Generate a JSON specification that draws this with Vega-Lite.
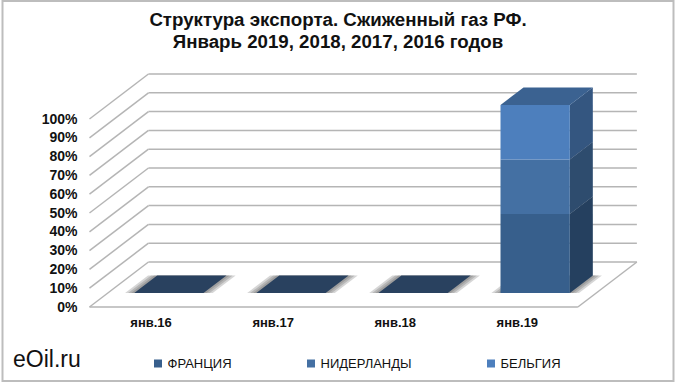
{"$schema":"https://vega.github.io/schema/vega-lite/v6.json","width":671,"height":380,"autosize":{"type":"none"},"padding":{"left":2.5,"top":1,"right":6.5,"bottom":4},"background":"white","title":{"text":["Структура экспорта. Сжиженный газ РФ.","Январь 2019, 2018, 2017, 2016 годов"],"frame":"group","anchor":"middle","offset":-51,"font":"Liberation Sans","fontSize":18.7,"fontWeight":"bold","color":"#111111","lineHeight":22},"config":{"view":{"stroke":"#bdbdbd","strokeWidth":2},"axis":{"domain":false,"ticks":false,"grid":false,"title":null,"labelFont":"Liberation Sans","labelFontWeight":"bold","labelColor":"#111111"}},"datasets":{"levels":[{"level":0},{"level":0.1},{"level":0.2},{"level":0.3},{"level":0.4},{"level":0.5},{"level":0.6},{"level":0.7},{"level":0.8},{"level":0.9},{"level":1}],"shares":[{"month":"янв.16","country":"ФРАНЦИЯ","share":0},{"month":"янв.16","country":"НИДЕРЛАНДЫ","share":0},{"month":"янв.16","country":"БЕЛЬГИЯ","share":0},{"month":"янв.17","country":"ФРАНЦИЯ","share":0},{"month":"янв.17","country":"НИДЕРЛАНДЫ","share":0},{"month":"янв.17","country":"БЕЛЬГИЯ","share":0},{"month":"янв.18","country":"ФРАНЦИЯ","share":0},{"month":"янв.18","country":"НИДЕРЛАНДЫ","share":0},{"month":"янв.18","country":"БЕЛЬГИЯ","share":0},{"month":"янв.19","country":"ФРАНЦИЯ","share":0.42},{"month":"янв.19","country":"НИДЕРЛАНДЫ","share":0.29},{"month":"янв.19","country":"БЕЛЬГИЯ","share":0.29}]},"data":{"name":"shares"},"transform":[{"calculate":"indexof(['янв.16','янв.17','янв.18','янв.19'],datum.month)+0.5","as":"c"},{"calculate":"indexof(['ФРАНЦИЯ','НИДЕРЛАНДЫ','БЕЛЬГИЯ'],datum.country)","as":"k"},{"stack":"share","groupby":["month"],"sort":[{"field":"k","order":"ascending"}],"as":["y0","y1"]}],"layer":[{"data":{"name":"levels"},"mark":{"type":"rule","color":"#b5b5b5","strokeWidth":1.5},"transform":[{"calculate":"datum.level+0.2394","as":"back"}],"encoding":{"x":{"datum":0,"type":"quantitative","scale":{"domain":[-0.7125,4.783]},"axis":{"values":[0.5,1.5,2.5,3.5],"offset":-74,"labelExpr":"['янв.16','янв.17','янв.18','янв.19'][floor(datum.value)]","labelFontSize":13,"labelPadding":9,"labelOverlap":false}},"x2":{"datum":0.483},"y":{"field":"level","type":"quantitative","scale":{"domain":[-0.3936,1.6277]},"axis":{"values":[0,0.1,0.2,0.3,0.4,0.5,0.6,0.7,0.8,0.9,1],"tickCount":12,"format":".0%","offset":-87,"labelFontSize":14,"labelPadding":12.5,"labelOverlap":false}},"y2":{"field":"back"}}},{"data":{"name":"levels"},"mark":{"type":"rule","color":"#b5b5b5","strokeWidth":1.5},"transform":[{"calculate":"datum.level+0.2394","as":"back"}],"encoding":{"x":{"datum":0.483,"type":"quantitative","scale":{"domain":[-0.7125,4.783]}},"x2":{"datum":4.483},"y":{"field":"back","type":"quantitative","scale":{"domain":[-0.3936,1.6277]}}}},{"data":{"name":"levels"},"mark":{"type":"rule","color":"#b5b5b5","strokeWidth":1.5},"transform":[{"filter":"datum.level==0"}],"encoding":{"x":{"datum":0,"type":"quantitative","scale":{"domain":[-0.7125,4.783]}},"x2":{"datum":4},"y":{"field":"level","type":"quantitative","scale":{"domain":[-0.3936,1.6277]}}}},{"data":{"name":"levels"},"mark":{"type":"rule","color":"#b5b5b5","strokeWidth":1.5},"transform":[{"filter":"datum.level==0"},{"calculate":"datum.level+0.2394","as":"back"}],"encoding":{"x":{"datum":4,"type":"quantitative","scale":{"domain":[-0.7125,4.783]}},"x2":{"datum":4.483},"y":{"field":"level","type":"quantitative","scale":{"domain":[-0.3936,1.6277]}},"y2":{"field":"back"}}},{"mark":{"type":"area","orient":"horizontal","fill":"#444444","opacity":0.22},"transform":[{"filter":"datum.k==2"},{"calculate":"[0.075,0.05,0.025]","as":"e"},{"flatten":["e"]},{"calculate":"[0.311,0.7]","as":"d"},{"flatten":["d"]},{"calculate":"datum.c-0.2838+datum.d*0.483-datum.e","as":"xl"},{"calculate":"datum.c+0.2838+datum.d*0.483+datum.e","as":"xr"},{"calculate":"datum.d*0.2394","as":"yy"}],"encoding":{"y":{"field":"yy","type":"quantitative","scale":{"domain":[-0.3936,1.6277]}},"x":{"field":"xl","type":"quantitative","stack":null,"scale":{"domain":[-0.7125,4.783]}},"x2":{"field":"xr"},"detail":[{"field":"month"},{"field":"e"}]}},{"mark":{"type":"area"},"transform":[{"filter":"datum.share>0"},{"calculate":"[0.311,0.7]","as":"d"},{"flatten":["d"]},{"calculate":"datum.c+0.2838+datum.d*0.483","as":"xs"},{"calculate":"datum.y1+datum.d*0.2394","as":"ya"},{"calculate":"datum.y0+datum.d*0.2394","as":"yb"}],"encoding":{"x":{"field":"xs","type":"quantitative","scale":{"domain":[-0.7125,4.783]}},"y":{"field":"ya","type":"quantitative","stack":null,"scale":{"domain":[-0.3936,1.6277]}},"y2":{"field":"yb"},"color":{"field":"country","type":"nominal","scale":{"domain":["ФРАНЦИЯ","НИДЕРЛАНДЫ","БЕЛЬГИЯ"],"range":["#375f8c","#4470a3","#4d7fbd"]}}}},{"mark":{"type":"area","fill":"#000000","opacity":0.32},"transform":[{"filter":"datum.share>0"},{"calculate":"[0.311,0.7]","as":"d"},{"flatten":["d"]},{"calculate":"datum.c+0.2838+datum.d*0.483","as":"xs"},{"calculate":"datum.y1+datum.d*0.2394","as":"ya"},{"calculate":"datum.y0+datum.d*0.2394","as":"yb"}],"encoding":{"x":{"field":"xs","type":"quantitative","scale":{"domain":[-0.7125,4.783]}},"y":{"field":"ya","type":"quantitative","stack":null,"scale":{"domain":[-0.3936,1.6277]}},"y2":{"field":"yb"},"detail":{"field":"country"}}},{"mark":{"type":"area","orient":"horizontal"},"transform":[{"filter":"datum.k==2"},{"calculate":"[0.311,0.7]","as":"d"},{"flatten":["d"]},{"calculate":"datum.c-0.2838+datum.d*0.483","as":"xl"},{"calculate":"datum.c+0.2838+datum.d*0.483","as":"xr"},{"calculate":"datum.y1+datum.d*0.2394","as":"yy"}],"encoding":{"y":{"field":"yy","type":"quantitative","scale":{"domain":[-0.3936,1.6277]}},"x":{"field":"xl","type":"quantitative","stack":null,"scale":{"domain":[-0.7125,4.783]}},"x2":{"field":"xr"},"detail":{"field":"month"},"color":{"condition":{"test":"datum.y1==0","value":"#29415f"},"value":"#3b6291"}}},{"mark":{"type":"rect"},"transform":[{"filter":"datum.share>0"},{"calculate":"datum.c+0.15-0.2838","as":"fl"},{"calculate":"datum.fl+0.5676","as":"fr"},{"calculate":"datum.y0+0.0745","as":"yb"},{"calculate":"datum.y1+0.0745","as":"yt"}],"encoding":{"x":{"field":"fl","type":"quantitative","scale":{"domain":[-0.7125,4.783]}},"x2":{"field":"fr"},"y":{"field":"yb","type":"quantitative","scale":{"domain":[-0.3936,1.6277]}},"y2":{"field":"yt"},"color":{"field":"country","type":"nominal","scale":{"domain":["ФРАНЦИЯ","НИДЕРЛАНДЫ","БЕЛЬГИЯ"],"range":["#375f8c","#4470a3","#4d7fbd"]},"legend":{"title":null,"orient":"none","legendX":149,"legendY":356,"direction":"horizontal","columns":3,"gridAlign":"none","columnPadding":72,"symbolType":"square","symbolSize":64,"symbolStrokeWidth":0,"labelFont":"Liberation Sans","labelFontSize":13,"labelFontWeight":"normal","labelColor":"#111111","labelOffset":3}}}},{"data":{"values":[{"brand":"eOil.ru"}]},"mark":{"type":"text","align":"left","baseline":"middle","font":"Liberation Sans","fontSize":23,"color":"#111111"},"encoding":{"text":{"field":"brand"},"x":{"datum":-0.6265,"type":"quantitative","scale":{"domain":[-0.7125,4.783]}},"y":{"datum":-0.282,"type":"quantitative","scale":{"domain":[-0.3936,1.6277]}}}}]}
